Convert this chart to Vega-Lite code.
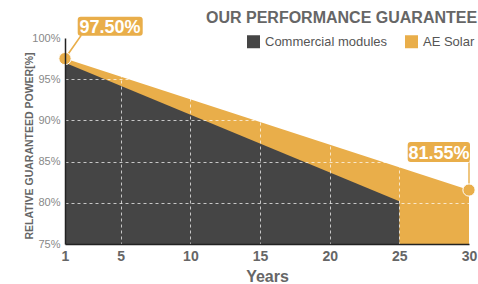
{
  "$schema": "https://vega.github.io/schema/vega-lite/v6.json",
  "width": 404,
  "height": 206,
  "autosize": {"type": "none"},
  "padding": {"left": 65, "top": 38, "right": 9, "bottom": 40},
  "background": "white",
  "config": {"font": "Liberation Sans", "view": {"stroke": null}},
  "title": {"text": "OUR PERFORMANCE GUARANTEE", "anchor": "end", "fontSize": 16, "fontWeight": "bold", "color": "#666666", "offset": -9},
  "datasets": {
    "ae": [
      {"year": 1, "power": 97.5, "series": "AE Solar", "label": "97.50%"},
      {"year": 30, "power": 81.55, "series": "AE Solar", "label": "81.55%"}
    ],
    "commercial": [
      {"year": 1, "power": 97, "series": "Commercial modules"},
      {"year": 25, "power": 80.2, "series": "Commercial modules"}
    ]
  },
  "encoding": {
    "x": {
      "field": "year", "type": "quantitative",
      "scale": {"domain": [1, 30], "nice": false},
      "axis": {
        "values": [1, 5, 10, 15, 20, 25, 30],
        "title": "Years", "titleFontSize": 16, "titleFontWeight": "bold", "titleColor": "#666666", "titlePadding": 5,
        "labelFontSize": 14, "labelFontWeight": "bold", "labelColor": "#666666", "labelPadding": 5, "labelFlush": false,
        "ticks": false, "domainColor": "#222222", "domainWidth": 1.5,
        "grid": true, "gridColor": "#ffffff", "gridDash": [3, 3],
        "gridOpacity": {"condition": {"test": "datum.value == 1 || datum.value == 30", "value": 0}, "value": 0.7},
        "zindex": 1
      }
    },
    "y": {
      "field": "power", "type": "quantitative",
      "scale": {"domain": [75, 100], "nice": false, "zero": false},
      "axis": {
        "values": [75, 80, 85, 90, 95, 100],
        "labelExpr": "datum.value + '%'",
        "title": "RELATIVE GUARANTEED POWER[%]", "titleFontSize": 10.5, "titleFontWeight": "bold", "titleColor": "#666666",
        "titleX": -31, "titleY": 107.5,
        "labelFontSize": 11, "labelColor": "#888888", "labelPadding": 5,
        "ticks": false, "domainColor": "#222222", "domainWidth": 1.5,
        "grid": true, "gridColor": "#ffffff", "gridDash": [3, 3],
        "gridOpacity": {"condition": {"test": "datum.value == 75 || datum.value == 100", "value": 0}, "value": 0.7},
        "zindex": 1
      }
    }
  },
  "layer": [
    {
      "data": {"name": "ae"},
      "mark": {"type": "area", "opacity": 1},
      "encoding": {
        "y2": {"datum": 75},
        "color": {
          "field": "series", "type": "nominal",
          "scale": {"domain": ["Commercial modules", "AE Solar"], "range": ["#454545", "#e9ae4a"]},
          "legend": {
            "orient": "none", "legendX": 182, "legendY": -3, "direction": "horizontal", "title": null,
            "symbolType": "square", "symbolSize": 169, "symbolStrokeWidth": 0, "symbolOpacity": 1,
            "labelFontSize": 13, "labelColor": "#555555", "labelOffset": 5, "columnPadding": 17
          }
        }
      }
    },
    {
      "data": {"name": "commercial"},
      "mark": {"type": "area", "opacity": 1},
      "encoding": {"y2": {"datum": 75}, "color": {"field": "series", "type": "nominal"}}
    },
    {
      "data": {"name": "ae"},
      "mark": {"type": "point", "filled": true, "size": 4, "color": "#e9ae4a", "opacity": 1, "strokeWidth": 0},
      "encoding": {
        "shape": {
          "field": "label", "type": "nominal",
          "scale": {
            "domain": ["97.50%", "81.55%"],
            "range": [
              "M15.7,-41.9 H74.7 Q77.7,-41.9 77.7,-38.9 V-25.9 Q77.7,-22.9 74.7,-22.9 H15.7 Q12.7,-22.9 12.7,-25.9 V-38.9 Q12.7,-41.9 15.7,-41.9 Z M-0.7,-0.5 L15.3,-23.4 L16.7,-22.5 L0.7,0.5 Z",
              "M-58.3,-48 H-2 Q1,-48 1,-45 V-31 Q1,-28 -2,-28 H-58.3 Q-61.3,-28 -61.3,-31 V-45 Q-61.3,-48 -58.3,-48 Z M-0.7,-28.5 H0.7 V0 H-0.7 Z"
            ]
          },
          "legend": null
        }
      }
    },
    {
      "data": {"name": "ae"},
      "mark": {"type": "point", "filled": true, "shape": "circle", "size": 150, "color": "#e9ae4a", "stroke": "#ffffff", "strokeWidth": 1, "opacity": 1}
    },
    {
      "data": {"name": "ae"},
      "transform": [{"filter": "datum.year == 1"}],
      "mark": {"type": "text", "dx": 45, "dy": -26, "baseline": "alphabetic", "align": "center", "fontSize": 18, "fontWeight": "bold", "color": "#ffffff"},
      "encoding": {"text": {"field": "label"}}
    },
    {
      "data": {"name": "ae"},
      "transform": [{"filter": "datum.year == 30"}],
      "mark": {"type": "text", "dx": -30, "dy": -31, "baseline": "alphabetic", "align": "center", "fontSize": 18, "fontWeight": "bold", "color": "#ffffff"},
      "encoding": {"text": {"field": "label"}}
    }
  ]
}
